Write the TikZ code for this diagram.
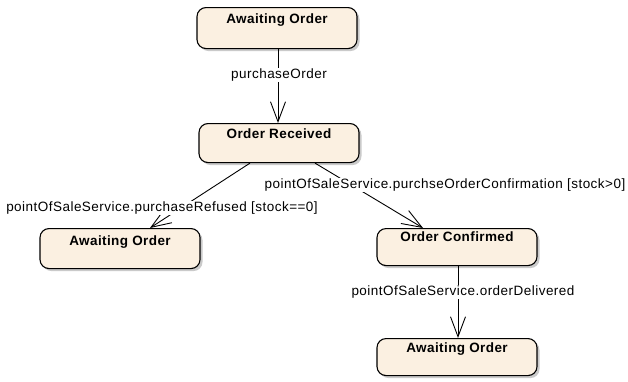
\documentclass[tikz,border=0pt]{standalone}
\usepackage{fontspec}
\setmainfont{Liberation Sans}
\newfontfamily\lblfont[LetterSpace=3.5]{Liberation Sans}
\newfontfamily\statefont[LetterSpace=3.0]{Liberation Sans Bold}
\usetikzlibrary{arrows.meta,shadows}
\definecolor{statefill}{HTML}{FBF0E1}
\begin{document}
\begin{tikzpicture}[x=1pt,y=-1pt,
  state/.style={draw=black, line width=1.1pt, fill=statefill, rounded corners=9pt,
    minimum width=160pt, inner xsep=0pt, inner ysep=0pt, anchor=north,
    font=\statefont\fontsize{13.5}{14}\selectfont,
    drop shadow={shadow xshift=2.5pt, shadow yshift=-2.5pt, fill=black!35, opacity=0.6}},
  trans/.style={line width=0.9pt, -{Straight Barb[length=20pt,width=15pt,line width=0.9pt]}},
  tlabel/.style={fill=white, inner sep=1pt, font=\lblfont\fontsize{13.5}{14}\selectfont}
]
\useasboundingbox (0,0) rectangle (628,381);
\node[state, text height=16pt, text depth=25pt] (b1) at (277,7) {Awaiting Order};
\node[state, text height=15pt, text depth=24pt] (b2) at (279,123) {Order Received};
\node[state, text height=17pt, text depth=23pt] (b3) at (120,228) {Awaiting Order};
\node[state, text height=13pt, text depth=24pt] (b4) at (457,228) {Order Confirmed};
\node[state, text height=14pt, text depth=23pt] (b5) at (457,338) {Awaiting Order};

\draw[trans] ([xshift=1pt]b1.south) -- ([xshift=-1pt]b2.north);
\draw[trans] ([xshift=-29pt]b2.south) -- ([xshift=30pt]b3.north);
\draw[trans] ([xshift=36pt]b2.south) -- ([xshift=-34pt]b4.north);
\draw[trans] ([xshift=1pt]b4.south) -- ([xshift=1pt]b5.north);

\node[tlabel] (l1) at (279,75) {purchaseOrder};
\node[tlabel] (l2) at (162,208) {pointOfSaleService.purchaseRefused [stock==0]};
\node[tlabel] (l3) at (445,185) {pointOfSaleService.purchseOrderConfirmation [stock>0]};
\node[tlabel] (l4) at (463,292) {pointOfSaleService.orderDelivered};
\end{tikzpicture}
\end{document}
